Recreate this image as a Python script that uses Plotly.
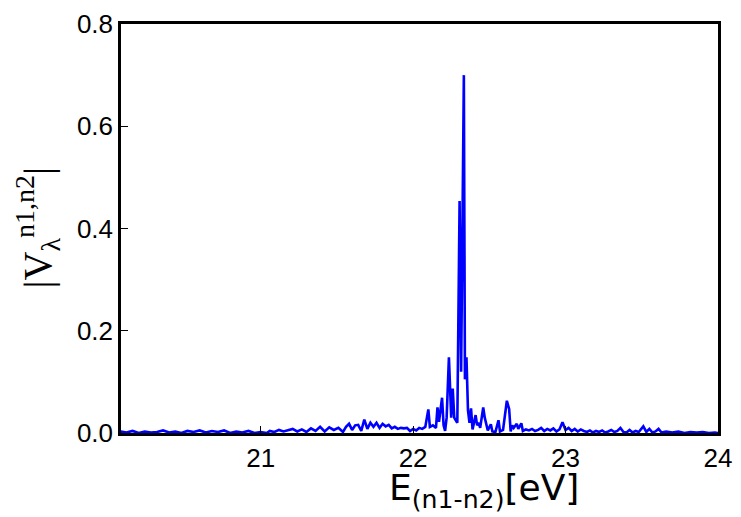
import plotly.graph_objects as go

# Energy grid (eV) and amplitude |V|
energy = [
    20.08, 20.12, 20.16, 20.20, 20.24, 20.28, 20.32, 20.36, 20.40, 20.44,
    20.48, 20.52, 20.56, 20.60, 20.64, 20.68, 20.72, 20.76, 20.80, 20.84,
    20.88, 20.92, 20.96, 21.00, 21.04,
    21.06, 21.09, 21.12, 21.15, 21.18, 21.21, 21.24, 21.27, 21.30, 21.33,
    21.36, 21.39, 21.42, 21.45, 21.48, 21.51, 21.54,
    21.56, 21.58, 21.60, 21.62, 21.64, 21.66, 21.68, 21.70, 21.72, 21.74,
    21.76, 21.78, 21.80, 21.82, 21.84, 21.86, 21.88, 21.90, 21.92, 21.94,
    21.96, 21.98, 22.00, 22.02, 22.04, 22.06, 22.08, 22.10, 22.11, 22.13,
    22.15, 22.16, 22.17, 22.19, 22.20, 22.21,
    22.22, 22.235, 22.245, 22.25, 22.26, 22.27, 22.28, 22.29, 22.305, 22.315,
    22.333, 22.34, 22.35, 22.355, 22.36, 22.37, 22.38, 22.39, 22.40, 22.41,
    22.42, 22.43, 22.44, 22.46, 22.47, 22.48, 22.49, 22.51, 22.52, 22.54,
    22.56, 22.57, 22.59, 22.615, 22.63, 22.64, 22.65, 22.66, 22.68, 22.69,
    22.71, 22.72,
    22.74, 22.76, 22.78, 22.80, 22.82, 22.84, 22.86, 22.88, 22.90, 22.92,
    22.94, 22.96, 22.98, 23.00, 23.02, 23.04, 23.06, 23.08, 23.10, 23.12,
    23.14, 23.16, 23.18, 23.20, 23.22, 23.24, 23.26, 23.28, 23.30, 23.32,
    23.34, 23.36, 23.38, 23.40, 23.42, 23.44, 23.46, 23.48, 23.51, 23.53,
    23.55, 23.57, 23.59, 23.61, 23.63, 23.66, 23.70, 23.74, 23.78, 23.82,
    23.86, 23.90, 23.94, 23.98, 24.00,
]

amplitude = [
    0.003, 0.001, 0.004, 0.000, 0.003, 0.001, 0.002, 0.005, 0.001, 0.003,
    0.000, 0.004, 0.002, 0.005, 0.001, 0.004, 0.002, 0.005, 0.000, 0.003,
    0.001, 0.004, 0.000, 0.002, 0.000,
    0.004, 0.002, 0.006, 0.003, 0.005, 0.008, 0.003, 0.007, 0.002, 0.009,
    0.004, 0.012, 0.003, 0.011, 0.006, 0.010, 0.002,
    0.012, 0.018, 0.006, 0.015, 0.016, 0.004, 0.026, 0.008, 0.020, 0.012,
    0.020, 0.010, 0.018, 0.013, 0.016, 0.009, 0.012, 0.008, 0.010, 0.009,
    0.010, 0.004, 0.008, 0.005, 0.010, 0.008, 0.012, 0.046, 0.012, 0.015,
    0.010, 0.050, 0.022, 0.069, 0.015, 0.004,
    0.030, 0.148, 0.085, 0.030, 0.087, 0.030, 0.025, 0.020, 0.454, 0.120,
    0.700, 0.105, 0.148, 0.110, 0.044, 0.020, 0.048, 0.007, 0.020, 0.035,
    0.015, 0.020, 0.010, 0.050, 0.030, 0.020, 0.005, 0.017, 0.003, 0.002,
    0.025, 0.003, 0.006, 0.063, 0.047, 0.003, 0.015, 0.010, 0.018, 0.008,
    0.019, 0.004,
    0.007, 0.005, 0.008, 0.004, 0.006, 0.010, 0.004, 0.008, 0.005, 0.009,
    0.003, 0.007, 0.021, 0.006, 0.010, 0.004, 0.008, 0.003, 0.007, 0.004,
    0.002, 0.005, 0.001, 0.004, 0.002, 0.005, 0.001, 0.003, 0.006, 0.002,
    0.004, 0.010, 0.002, 0.001, 0.006, 0.001, 0.004, 0.002, 0.013, 0.002,
    0.008, 0.001, 0.003, 0.008, 0.001, 0.003, 0.001, 0.003, 0.000, 0.002,
    0.001, 0.002, 0.000, 0.001, 0.000,
]

x_ticks = [21, 22, 23, 24]
y_ticks = [0.0, 0.2, 0.4, 0.6, 0.8]

fig = go.Figure()
fig.add_trace(go.Scatter(
    x=energy, y=amplitude, mode="lines",
    line=dict(color="#0000ff", width=2.6),
    showlegend=False, cliponaxis=True,
))

fig.update_layout(
    width=741, height=517,
    margin=dict(l=121, r=16, t=9, b=84),
    paper_bgcolor="white", plot_bgcolor="white",
    font=dict(family="Liberation Sans, Arial, sans-serif", color="black"),
)

fig.update_xaxes(
    range=[20.084, 24.0],
    tickvals=x_ticks, ticktext=[str(v) for v in x_ticks],
    ticks="inside", ticklen=7, tickwidth=1, tickcolor="black",
    showline=True, linecolor="black", linewidth=2.5, mirror=True,
    showgrid=False, zeroline=False, ticklabeloverflow="allow",
    tickfont=dict(size=26, family="Liberation Sans, Arial, sans-serif"),
)
fig.update_yaxes(
    range=[0, 0.8],
    tickvals=y_ticks, ticktext=["%.1f" % v for v in y_ticks],
    ticks="inside", ticklen=7, tickwidth=1, tickcolor="black",
    showline=True, linecolor="black", linewidth=2.5, mirror=True,
    showgrid=False, zeroline=False, ticklabeloverflow="allow",
    tickfont=dict(size=26, family="Liberation Sans, Arial, sans-serif"),
)

# X axis title
fig.add_annotation(
    xref="paper", yref="paper",
    x=(488 - 121) / 604, y=-(493 - 433) / 424,
    text="E<sub>(n1-n2)</sub>[eV]",
    showarrow=False, xanchor="center", yanchor="middle",
    font=dict(size=36, family="DejaVu Sans, Verdana, sans-serif", color="black"),
)

# Y axis title
fig.add_annotation(
    xref="paper", yref="paper",
    x=-(121 - 36) / 604, y=(433 - 220) / 424,
    text="|V<sub>λ</sub><sup>n1,n2</sup>|",
    showarrow=False, textangle=-90, xanchor="center", yanchor="middle",
    font=dict(size=40, family="Liberation Serif, Times New Roman, serif", color="black"),
)

fig.write_html("out.html")
